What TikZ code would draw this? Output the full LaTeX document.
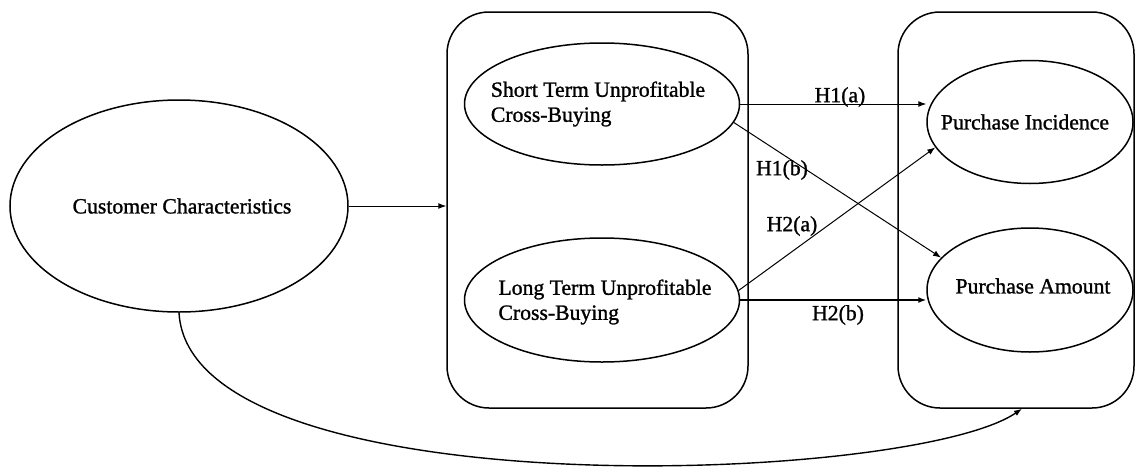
\documentclass[tikz,border=0pt]{standalone}
\usepackage{fontspec}
\setmainfont{Liberation Serif}
\newfontface\heavyface{Liberation Serif}[FakeBold=1.2]
\usetikzlibrary{shapes.geometric,arrows.meta}
\begin{document}
\begin{tikzpicture}[x=1pt,y=-1pt,
  every node/.style={font=\heavyface\fontsize{21.7}{25}\selectfont},
  oval/.style={draw,ellipse,line width=1.5pt,inner sep=0pt},
  frame/.style={draw,rectangle,rounded corners=42pt,line width=1.5pt,inner sep=0pt},
  link/.style={line width=1pt,-{Latex[length=8pt,width=6pt]}},
  txt/.style={inner sep=0pt,align=left},
  hyp/.style={inner sep=0pt}]
\useasboundingbox (0,0) rectangle (1137,466);
% frames
\node[frame,minimum width=301pt,minimum height=396pt] (midbox) at (597.5,210) {};
\node[frame,minimum width=236pt,minimum height=396pt] (rightbox) at (1016,210) {};
% ovals
\node[oval,minimum width=338pt,minimum height=212pt] (cust) at (179,206) {};
\node[oval,minimum width=275pt,minimum height=122pt] (short) at (602,104) {};
\node[oval,minimum width=275pt,minimum height=124pt] (long) at (602,300) {};
\node[oval,minimum width=206pt,minimum height=123pt] (inc) at (1030,122) {};
\node[oval,minimum width=206pt,minimum height=124pt] (amt) at (1030,290) {};
% texts
\node[txt] (custtxt) at (182,206) {Customer Characteristics};
\node[txt] (shorttxt) at (598,104) {Short Term Unprofitable\\Cross-Buying};
\node[txt] (longtxt) at (605,302) {Long Term Unprofitable\\Cross-Buying};
\node[txt] (inctxt) at (1025,122) {Purchase Incidence};
\node[txt] (amttxt) at (1033,286) {Purchase Amount};
% connectors
\draw[link] (cust.east) -- (midbox.west |- cust.east);
\draw[link] (short.east) -- (inc.west |- short.east);
\draw[link] (short.352) -- (amt.160);
\draw[link] (long.4) -- (inc.195);
\draw[link,line width=1.5pt] (long.east) -- (amt.west |- long.east);
\draw[link,line width=1.4pt] (cust.south) .. controls (190,510) and (910,485) .. ([xshift=6pt]rightbox.south);
% labels
\node[hyp] (h1a) at (840,97) {H1(a)};
\node[hyp] (h1b) at (782,170) {H1(b)};
\node[hyp] (h2a) at (792,226) {H2(a)};
\node[hyp] (h2b) at (838,315) {H2(b)};
\end{tikzpicture}
\end{document}
